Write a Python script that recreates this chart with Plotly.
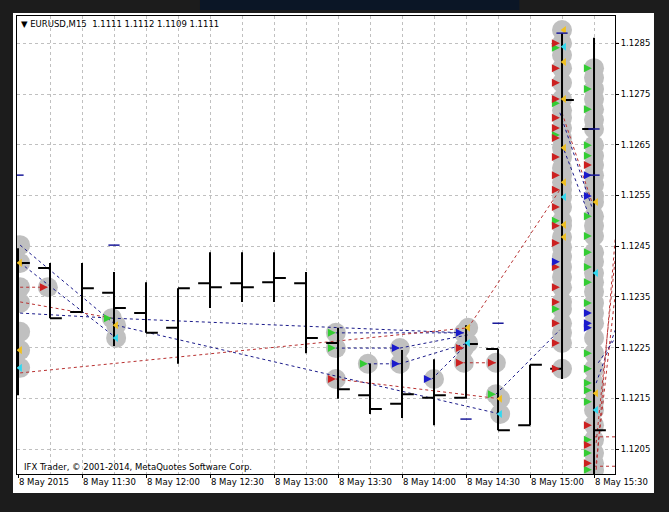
import pandas as pd
import plotly.graph_objects as go

DAY = "2015-05-08 "

# ---------------- OHLC bars (M15) ----------------
bar_times = ["11:00", "11:15", "11:30", "11:45", "12:00", "12:15", "12:30", "12:45",
             "13:00", "13:15", "13:30", "13:45", "14:00", "14:15", "14:30", "14:45",
             "15:00", "15:15", "15:30"]
bar_open = [1.12344, 1.12407, 1.12320, 1.12358, 1.12318, 1.12289, 1.12377, 1.12377,
            1.12379, 1.12377, 1.12259, 1.12156, 1.12139, 1.12151, 1.12151, 1.12247,
            1.12097, 1.12208, 1.12681]
bar_high = [1.12446, 1.12417, 1.12417, 1.12399, 1.12379, 1.12367, 1.12438, 1.12438,
            1.12438, 1.12399, 1.12289, 1.12218, 1.12245, 1.12227, 1.12294, 1.12247,
            1.12216, 1.12870, 1.12861]
bar_low = [1.12156, 1.12308, 1.12318, 1.12253, 1.12279, 1.12218, 1.12328, 1.12340,
           1.12340, 1.12239, 1.12149, 1.12119, 1.12111, 1.12097, 1.12149, 1.12087,
           1.12097, 1.12188, 1.11997]
bar_close = [1.12417, 1.12308, 1.12367, 1.12328, 1.12279, 1.12367, 1.12369, 1.12369,
             1.12387, 1.12269, 1.12168, 1.12129, 1.12158, 1.12156, 1.12257, 1.12087,
             1.12216, 1.12738, 1.12087]

# ---------------- trade circles ----------------
circle_times = (["11:01"] * 7 + ["11:14", "11:44", "11:46", "11:46",
                 "13:29", "13:29", "13:29", "13:44", "13:59", "13:59", "14:15",
                 "14:31", "14:29", "14:31", "14:29", "14:29",
                 "14:44", "14:44", "14:46", "14:46"] + ["15:15"] * 32 + ["15:30"] * 37)
circle_prices = ([1.12452, 1.12417, 1.12369, 1.12338, 1.12281, 1.12245, 1.12210,
                  1.12369, 1.12308, 1.12294, 1.12269,
                  1.12279, 1.12249, 1.12188, 1.12218, 1.12249, 1.12218, 1.12188,
                  1.12289, 1.12279, 1.12259, 1.12249, 1.12220,
                  1.12220, 1.12158, 1.12149, 1.12119]
                 + [1.12876, 1.12850, 1.12827, 1.12801, 1.12772, 1.12740, 1.12718, 1.12703,
                    1.12683, 1.12663, 1.12644, 1.12626, 1.12604, 1.12590, 1.12576, 1.12561,
                    1.12547, 1.12527, 1.12500, 1.12490, 1.12468, 1.12448, 1.12429, 1.12409,
                    1.12389, 1.12369, 1.12340, 1.12326, 1.12298, 1.12279, 1.12259, 1.12208]
                 + [1.12801, 1.12782, 1.12760, 1.12740, 1.12720, 1.12699, 1.12681, 1.12649,
                    1.12628, 1.12610, 1.12590, 1.12571, 1.12549, 1.12537, 1.12509, 1.12490,
                    1.12470, 1.12438, 1.12419, 1.12397, 1.12379, 1.12360, 1.12338, 1.12318,
                    1.12298, 1.12269, 1.12239, 1.12208, 1.12180, 1.12166, 1.12143, 1.12127,
                    1.12097, 1.12068, 1.12042, 1.12022, 1.12009])

# ---------------- trade arrows ----------------
green_times = (["11:44", "13:29", "13:29", "13:44", "14:44"] + ["15:14"] * 5 + ["15:29"] * 19)
green_prices = ([1.12308, 1.12279, 1.12249, 1.12218, 1.12158]
                + [1.12841, 1.12732, 1.12669, 1.12500, 1.12326]
                + [1.12801, 1.12760, 1.12720, 1.12649, 1.12628, 1.12509, 1.12470, 1.12438,
                   1.12409, 1.12379, 1.12338, 1.12239, 1.12208, 1.12180, 1.12166, 1.12143,
                   1.12068, 1.12042, 1.12009])

red_times = (["11:14", "13:29", "14:29", "14:29", "14:44"] + ["15:14"] * 19 + ["15:29"] * 4)
red_prices = ([1.12369, 1.12188, 1.12249, 1.12220, 1.12220]
              + [1.12850, 1.12801, 1.12772, 1.12740, 1.12703, 1.12683, 1.12663, 1.12626,
                 1.12590, 1.12561, 1.12527, 1.12490, 1.12456, 1.12409, 1.12369, 1.12340,
                 1.12298, 1.12259, 1.12208]
              + [1.12610, 1.12097, 1.12058, 1.12022])

blue_times = ["13:59", "13:59", "14:14", "14:29", "15:14",
              "15:29", "15:29", "15:29", "15:29", "15:29"]
blue_prices = [1.12249, 1.12218, 1.12188, 1.12279, 1.12419,
               1.12590, 1.12549, 1.12318, 1.12298, 1.12289]

yellow_times = ["11:01", "11:01", "11:46", "14:31", "14:46",
                "15:16", "15:16", "15:16", "15:16", "15:16", "15:16", "15:16",
                "15:31", "15:31"]
yellow_prices = [1.12417, 1.12245, 1.12294, 1.12289, 1.12149,
                 1.12876, 1.12813, 1.12740, 1.12644, 1.12576, 1.12492, 1.12468,
                 1.12537, 1.12160]

cyan_times = ["11:01", "11:46", "14:31", "14:46", "15:16", "15:16", "15:31", "15:31"]
cyan_prices = [1.12210, 1.12269, 1.12259, 1.12119, 1.12843, 1.12547, 1.12397, 1.12127]

level_times = ["11:00", "11:45", "14:30", "14:45", "15:15", "15:30", "15:30"]
level_prices = [1.12590, 1.12452, 1.12109, 1.12298, 1.12870, 1.12681, 1.12590]

# ---------------- dashed trade lines (start, end) ----------------
navy_lines = [
    ("11:01", 1.12452, "11:46", 1.12294),
    ("11:01", 1.12417, "11:46", 1.12269),
    ("11:01", 1.12318, "11:44", 1.12308),
    ("11:44", 1.12308, "14:29", 1.12279),
    ("11:46", 1.12294, "14:46", 1.12119),
    ("13:29", 1.12279, "14:29", 1.12279),
    ("13:29", 1.12249, "13:59", 1.12249),
    ("13:44", 1.12218, "13:59", 1.12218),
    ("13:59", 1.12218, "14:31", 1.12259),
    ("14:14", 1.12188, "14:31", 1.12259),
    ("13:59", 1.12249, "14:31", 1.12275),
    ("14:44", 1.12158, "15:14", 1.12285),
    ("15:14", 1.12713, "15:29", 1.12527),
    ("15:16", 1.12639, "15:28", 1.12507),
    ("15:31", 1.12180, "15:40", 1.12285),
    ("15:32", 1.12220, "15:40", 1.12269),
]
red_lines = [
    ("11:01", 1.12369, "11:14", 1.12369),
    ("11:01", 1.12340, "11:44", 1.12308),
    ("11:01", 1.12200, "14:31", 1.12289),
    ("13:29", 1.12188, "14:46", 1.12149),
    ("14:29", 1.12220, "14:44", 1.12220),
    ("14:31", 1.12289, "15:14", 1.12561),
    ("15:15", 1.12713, "15:29", 1.12537),
    ("15:31", 1.12062, "15:40", 1.12429),
    ("15:31", 1.12022, "15:40", 1.12358),
    ("15:30", 1.12074, "15:40", 1.12074),
    ("15:30", 1.12016, "15:40", 1.12016),
    ("15:31", 1.12009, "15:40", 1.12468),
]

# ---------------- axis labels ----------------
label_times = ["11:00", "11:30", "12:00", "12:30", "13:00", "13:30", "14:00", "14:30", "15:00", "15:30"]
label_texts = ["8 May 2015", "8 May 11:30", "8 May 12:00", "8 May 12:30", "8 May 13:00",
               "8 May 13:30", "8 May 14:00", "8 May 14:30", "8 May 15:00", "8 May 15:30"]
price_ticks = [1.1205, 1.1215, 1.1225, 1.1235, 1.1245, 1.1255, 1.1265, 1.1275, 1.1285]

x_range = ["2015-05-08 10:59:32", "2015-05-08 15:39:50"]
y_range = [1.120007, 1.129038]


def T(lst):
    return [pd.Timestamp(DAY + s) for s in lst]


def segs(lines):
    xs, ys = [], []
    for t1, p1, t2, p2 in lines:
        xs += [pd.Timestamp(DAY + t1), pd.Timestamp(DAY + t2), None]
        ys += [p1, p2, None]
    return xs, ys


FONT = "DejaVu Sans"
FS = 8.5
fig = go.Figure()

fig.add_trace(go.Scatter(x=T(circle_times), y=circle_prices, mode="markers",
                         marker=dict(symbol="circle", size=20, color="#c0c0c0"),
                         hoverinfo="skip", showlegend=False))
nx, ny = segs(navy_lines)
fig.add_trace(go.Scatter(x=nx, y=ny, mode="lines",
                         line=dict(color="#1a1a8a", width=1, dash="3px,3px"),
                         hoverinfo="skip", showlegend=False))
rx, ry = segs(red_lines)
fig.add_trace(go.Scatter(x=rx, y=ry, mode="lines",
                         line=dict(color="#b83030", width=1, dash="3px,3px"),
                         hoverinfo="skip", showlegend=False))

fig.add_trace(go.Ohlc(x=T(bar_times), open=bar_open, high=bar_high, low=bar_low, close=bar_close,
                      increasing=dict(line=dict(color="black", width=2)),
                      decreasing=dict(line=dict(color="black", width=2)),
                      tickwidth=0.37, xaxis="x2", yaxis="y2", hoverinfo="skip", showlegend=False))

def arrows(times, prices, symbol, color, size):
    fig.add_trace(go.Scatter(x=T(times), y=prices, mode="markers", xaxis="x2", yaxis="y2",
                             marker=dict(symbol=symbol, size=size, color=color,
                                         line=dict(width=0)),
                             hoverinfo="skip", showlegend=False))

arrows(green_times, green_prices, "arrow-right", "#33cc33", 8)
arrows(red_times, red_prices, "arrow-right", "#cc2020", 8)
arrows(blue_times, blue_prices, "arrow-right", "#1a1acc", 8)
arrows(yellow_times, yellow_prices, "triangle-left", "#f0c020", 7)
arrows(cyan_times, cyan_prices, "triangle-left", "#30d8f0", 7)
fig.add_trace(go.Scatter(x=T(level_times), y=level_prices, mode="markers", xaxis="x2", yaxis="y2",
                         marker=dict(symbol="line-ew", size=8, line=dict(color="#1a1a9a", width=1.5)),
                         hoverinfo="skip", showlegend=False))

grid = dict(gridcolor="#c0c0c0", griddash="3px,3px", gridwidth=1)
fig.update_layout(
    width=669, height=512, autosize=False,
    margin=dict(l=17, r=54, t=16, b=38, pad=0),
    paper_bgcolor="#1c1c1c", plot_bgcolor="white",
    font=dict(family=FONT, size=FS, color="black"),
    xaxis=dict(type="date", range=x_range, tickvals=T(label_times), ticktext=label_texts,
               tickangle=0, automargin=False,
               ticks="outside", ticklen=3, tickcolor="black", ticklabelposition="outside right",
               showgrid=True, **grid, showline=True, mirror=True, linecolor="black", linewidth=1,
               zeroline=False, rangeslider=dict(visible=False),
               minor=dict(dtick=900000, tick0=DAY + "11:00", showgrid=True, ticks="", **grid),
               tickfont=dict(family=FONT, size=FS, color="black")),
    yaxis=dict(range=y_range, side="right", tickvals=price_ticks, tickformat=".4f",
               automargin=False, ticks="outside", ticklen=3, tickcolor="black",
               showgrid=True, **grid, showline=True, mirror=True, linecolor="black", linewidth=1,
               zeroline=False, tickfont=dict(family=FONT, size=FS, color="black")),
    xaxis2=dict(type="date", range=x_range, overlaying="x", visible=False, automargin=False,
                rangeslider=dict(visible=False)),
    yaxis2=dict(range=y_range, overlaying="y", visible=False, automargin=False),
    shapes=[
        dict(type="rect", xref="paper", yref="paper", x0=-0.0067, x1=1.0652, y0=-0.0415, y1=1.0066,
             fillcolor="white", line=dict(width=0), layer="below"),
        dict(type="rect", xref="paper", yref="paper", x0=0.306, x1=0.84, y0=1.013, y1=1.035,
             fillcolor="#0b1626", line=dict(width=0), layer="below"),
    ],
    annotations=[
        dict(xref="paper", yref="paper", x=0.004, y=0.9825, xanchor="left", yanchor="middle",
             text="▼ EURUSD,M15  1.1111 1.1112 1.1109 1.1111", showarrow=False,
             font=dict(family=FONT, size=FS, color="black")),
        dict(xref="paper", yref="paper", x=0.008, y=0.0153, xanchor="left", yanchor="middle",
             text="IFX Trader, © 2001-2014, MetaQuotes Software Corp.", showarrow=False,
             font=dict(family=FONT, size=FS, color="black")),
    ],
)

fig.write_html("out.html", config={"displayModeBar": False},
               post_script="document.body.style.margin='0';document.body.style.background='#1c1c1c';")
